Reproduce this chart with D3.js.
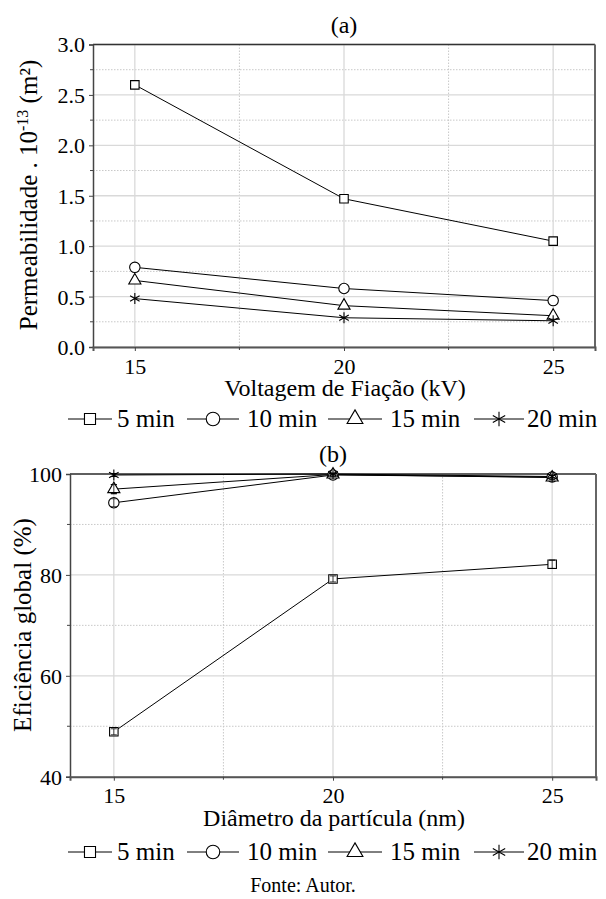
<!DOCTYPE html>
<html>
<head>
<meta charset="utf-8">
<script src="https://cdn.jsdelivr.net/npm/d3@7"></script>
<style>
  html, body { margin: 0; padding: 0; background: #fff; }
  #fig text, #fig tspan { font-family: 'Liberation Serif' !important; }
</style>
</head>
<body>
<svg id="fig" width="606" height="899" font-family="Liberation Serif"></svg>
<script>
// ---- data ----
const seriesNames = ["5 min", "10 min", "15 min", "20 min"];
const symbolsKeys = ["square", "circle", "triangle", "asterisk"];

// (a) permeability vs spinning voltage
const voltage = [15, 20, 25];
const perm5 = [2.60, 1.47, 1.05];
const perm10 = [0.79, 0.58, 0.46];
const perm15 = [0.66, 0.41, 0.31];
const perm20 = [0.48, 0.29, 0.26];
const permTicks = [0.0, 0.5, 1.0, 1.5, 2.0, 2.5, 3.0];

// (b) global efficiency vs particle diameter
const diameter = [15, 20, 25];
const eff5 = [48.9, 79.2, 82.1];
const eff10 = [94.3, 99.8, 99.4];
const eff15 = [97.0, 99.9, 99.3];
const eff20 = [99.8, 100.0, 99.5];
const effErr5 = [0.6, 0.6, 0.8];
const effErr10 = [0.8, 0.3, 0.4];
const effErr15 = [0.9, 0.3, 0.4];
const effErr20 = [0.3, 0.1, 0.3];
const effTicks = [40, 60, 80, 100];

const xTicks = [15, 20, 25];

const svg = d3.select("#fig");

// serif text helper: family set both as attribute and inline style
function label(sel, size) {
  return sel
    .attr("font-family", "Liberation Serif")
    .attr("font-size", size)
    .style("font-family", "'Liberation Serif'")
    .style("font-size", size + "px")
    .attr("fill", "#000");
}

// marker shapes
function markerPath(kind, k = 1) {
  if (kind === "square") return d3.symbol(d3.symbolSquare, 72 * k * k)();
  if (kind === "circle") return d3.symbol(d3.symbolCircle, 85 * k * k)();
  if (kind === "triangle") return d3.symbol(d3.symbolTriangle, 64 * k * k)();
  // six-armed asterisk
  const r = 5.5 * k, a = r * Math.cos(Math.PI / 6), b = r * Math.sin(Math.PI / 6);
  return `M0,${-r}L0,${r}M${-a},${-b}L${a},${b}M${-a},${b}L${a},${-b}`;
}
function drawMarker(g, kind, x, y, k = 1) {
  g.append("path")
    .attr("d", markerPath(kind, k))
    .attr("transform", `translate(${x},${y})`)
    .attr("fill", kind === "asterisk" ? "none" : "#fff")
    .attr("stroke", "#000")
    .attr("stroke-width", 1.1);
}

function errorBars(g, x, y, series, errs, xs, sw) {
  series.forEach((s, k) => {
    s.forEach((v, i) => {
      const e = errs[k][i];
      const cx = x(xs[i]);
      g.append("line").attr("x1", cx).attr("x2", cx).attr("y1", y(v - e)).attr("y2", y(v + e))
        .attr("stroke", "#000").attr("stroke-width", sw);
      [v - e, v + e].forEach(w => g.append("line")
        .attr("x1", cx - 3).attr("x2", cx + 3).attr("y1", y(w)).attr("y2", y(w))
        .attr("stroke", "#000").attr("stroke-width", sw));
    });
  });
}

function panel(opt) {
  const { left, right, top, bottom, xDomain, yDomain, yTicks, yMinor, xMinor, series, errs, xs, yFmt } = opt;
  const x = d3.scaleLinear().domain(xDomain).range([left, right]);
  const y = d3.scaleLinear().domain(yDomain).range([bottom, top]);
  const g = svg.append("g");

  // minor grid (dotted)
  g.selectAll(".gx2").data(xMinor).join("line")
    .attr("x1", d => x(d)).attr("x2", d => x(d)).attr("y1", top).attr("y2", bottom)
    .attr("stroke", "#c8c8c8").attr("stroke-width", 1).attr("stroke-dasharray", "1.5,1.5");
  g.selectAll(".gy2").data(yMinor).join("line")
    .attr("x1", left).attr("x2", right).attr("y1", d => y(d)).attr("y2", d => y(d))
    .attr("stroke", "#c8c8c8").attr("stroke-width", 1).attr("stroke-dasharray", "1.5,1.5");
  // major grid
  g.selectAll(".gx").data(xTicks).join("line")
    .attr("x1", d => x(d)).attr("x2", d => x(d)).attr("y1", top).attr("y2", bottom)
    .attr("stroke", "#d9d9d9").attr("stroke-width", 1.3);
  g.selectAll(".gy").data(yTicks).join("line")
    .attr("x1", left).attr("x2", right).attr("y1", d => y(d)).attr("y2", d => y(d))
    .attr("stroke", "#d9d9d9").attr("stroke-width", 1.3);

  // frame
  g.append("line").attr("x1", left).attr("x2", right).attr("y1", top).attr("y2", top)
    .attr("stroke", "#333").attr("stroke-width", 1.5);
  g.append("line").attr("x1", right).attr("x2", right).attr("y1", top).attr("y2", bottom)
    .attr("stroke", "#666").attr("stroke-width", 2);

  // axes
  const yAxis = d3.axisLeft(y).tickValues(yTicks).tickSize(4).tickPadding(4).tickFormat(yFmt);
  const ya = g.append("g").attr("transform", `translate(${left},0)`).call(yAxis)
    .attr("font-family", "Liberation Serif").attr("font-size", 22);
  ya.selectAll(".tick line").attr("stroke", "#444");
  ya.select(".domain").attr("stroke", "#444").attr("stroke-width", 1.5);
  label(ya.selectAll("text"), 22).attr("dy", "0.34em");
  g.append("g").selectAll("line").data(yMinor).join("line")
    .attr("x1", left - 3).attr("x2", left).attr("y1", d => y(d)).attr("y2", d => y(d))
    .attr("stroke", "#444");

  const xAxis = d3.axisBottom(x).tickValues(xTicks).tickSize(4).tickPadding(7).tickFormat(d3.format("d"));
  const xa = g.append("g").attr("transform", `translate(0,${bottom})`).call(xAxis)
    .attr("font-family", "Liberation Serif").attr("font-size", 22);
  xa.selectAll(".tick line").attr("stroke", "#444");
  xa.select(".domain").attr("stroke", "#555").attr("stroke-width", 2);
  label(xa.selectAll("text"), 22);
  g.append("g").selectAll("line").data(xMinor).join("line")
    .attr("x1", d => x(d)).attr("x2", d => x(d)).attr("y1", bottom).attr("y2", bottom + 3)
    .attr("stroke", "#444");

  // lines
  const line = d3.line().x((d, i) => x(xs[i])).y(d => y(d));
  series.forEach(s => {
    g.append("path").datum(s).attr("d", line)
      .attr("fill", "none").attr("stroke", "#000").attr("stroke-width", 1);
  });
  if (errs) errorBars(g, x, y, series, errs, xs, 1);
  // markers
  series.forEach((s, k) => {
    s.forEach((v, i) => drawMarker(g, symbolsKeys[k], x(xs[i]), y(v)));
  });
  // error bars shown through the open markers
  if (errs) errorBars(g, x, y, series, errs, xs, 0.8);
  return { x, y };
}

function legend(yc) {
  const g = svg.append("g");
  const items = [
    { x: 68, w: 44, tx: 117 },
    { x: 187, w: 52, tx: 247 },
    { x: 328, w: 54, tx: 390 },
    { x: 474, w: 50, tx: 527 }
  ];
  items.forEach((it, k) => {
    g.append("line").attr("x1", it.x).attr("x2", it.x + it.w).attr("y1", yc).attr("y2", yc)
      .attr("stroke", "#000").attr("stroke-width", 1);
    drawMarker(g, symbolsKeys[k], it.x + it.w / 2, yc, 1.3);
    label(g.append("text").attr("x", it.tx).attr("y", yc + 8), 25).text(seriesNames[k]);
  });
}

// ---- panel (a) ----
label(svg.append("text").attr("x", 344).attr("y", 33).attr("text-anchor", "middle"), 24).text("(a)");
panel({
  left: 93, right: 595, top: 44.5, bottom: 347,
  xDomain: [14, 26], yDomain: [0, 3],
  yTicks: permTicks, yMinor: [0.25, 0.75, 1.25, 1.75, 2.25, 2.75],
  xMinor: [17.5, 22.5],
  series: [perm5, perm10, perm15, perm20], xs: voltage,
  yFmt: d3.format(".1f")
});
const ylabA = label(svg.append("text").attr("transform", "translate(37,195) rotate(-90)")
  .attr("text-anchor", "middle"), 25);
ylabA.append("tspan").text("Permeabilidade . 10");
ylabA.append("tspan").attr("dy", -9).attr("font-size", 16).style("font-size", "16px").text("-13");
ylabA.append("tspan").attr("dy", 9).text(" (m²)");
label(svg.append("text").attr("x", 345).attr("y", 396).attr("text-anchor", "middle"), 24)
  .text("Voltagem de Fiação (kV)");
legend(419);

// ---- panel (b) ----
label(svg.append("text").attr("x", 333).attr("y", 462).attr("text-anchor", "middle"), 24).text("(b)");
panel({
  left: 70, right: 596, top: 474, bottom: 776.7,
  xDomain: [14, 26], yDomain: [40, 100],
  yTicks: effTicks, yMinor: [50, 70, 90],
  xMinor: [17.5, 22.5],
  series: [eff5, eff10, eff15, eff20], xs: diameter,
  errs: [effErr5, effErr10, effErr15, effErr20],
  yFmt: d3.format("d")
});
label(svg.append("text").attr("transform", "translate(31,625) rotate(-90)")
  .attr("text-anchor", "middle"), 25).text("Eficiência global (%)");
label(svg.append("text").attr("x", 334).attr("y", 826).attr("text-anchor", "middle"), 24)
  .text("Diâmetro da partícula (nm)");
legend(852);

label(svg.append("text").attr("x", 303).attr("y", 892).attr("text-anchor", "middle"), 20)
  .text("Fonte: Autor.");
</script>
</body>
</html>
